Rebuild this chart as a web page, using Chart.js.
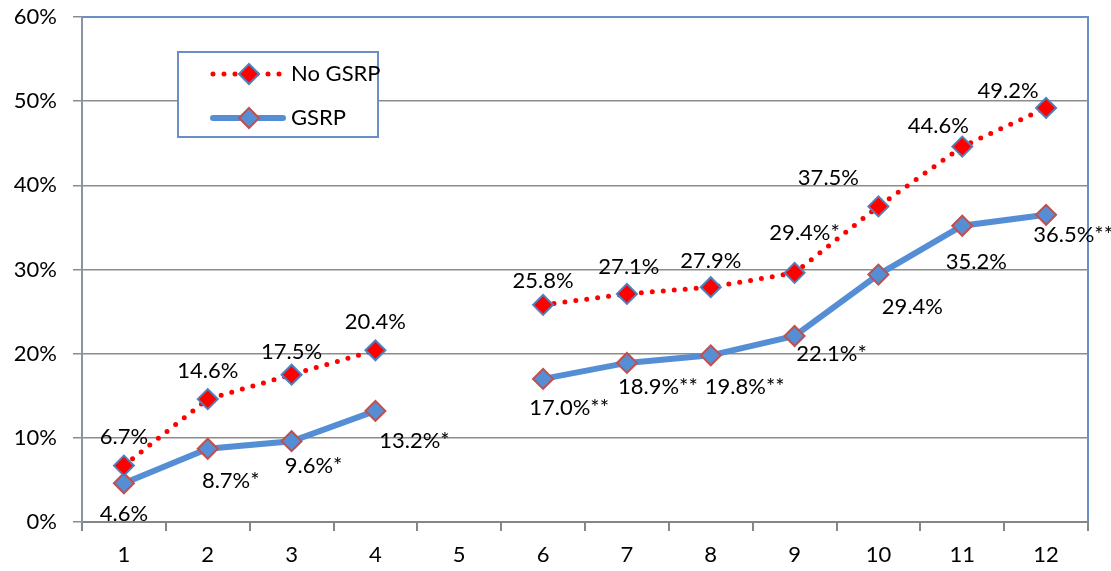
<!DOCTYPE html>
<html>
<head>
<meta charset="utf-8">
<script src="https://cdn.jsdelivr.net/npm/chart.js@4/dist/chart.umd.min.js"></script>
<style>
  html, body { margin: 0; padding: 0; background: #fff; }
  #wrap { width: 1111px; height: 571px; }
</style>
</head>
<body>
<div id="wrap"><canvas id="chart" width="1111" height="571"></canvas></div>
<script>
// chart data
const categories = ['1', '2', '3', '4', '5', '6', '7', '8', '9', '10', '11', '12'];
const noGsrp = [6.7, 14.6, 17.5, 20.4, null, 25.8, 27.1, 27.9, 29.6, 37.5, 44.6, 49.2];
const gsrp = [4.6, 8.7, 9.6, 13.2, null, 17.0, 18.9, 19.8, 22.1, 29.4, 35.2, 36.5];
const noGsrpLabels = ['6.7%', '14.6%', '17.5%', '20.4%', '', '25.8%', '27.1%', '27.9%', '29.4%*', '37.5%', '44.6%', '49.2%'];
const gsrpLabels = ['4.6%', '8.7%*', '9.6%*', '13.2%*', '', '17.0%**', '18.9%**', '19.8%**', '22.1%*', '29.4%', '35.2%', '36.5%**'];
const yTicks = [0, 10, 20, 30, 40, 50, 60];

// label offsets from the point (px): [dx, dy] to text centre
const noGsrpOffsets = [[0, -29], [0, -28], [0, -23], [0, -28], null, [0, -24], [2, -27], [0, -26], [10, -40], [-50, -28], [-24, -21], [-38, -17]];
const gsrpOffsets = [[0, 31], [23, 32], [22, 25], [39, 30], null, [26, 29], [31, 24], [34, 32], [37, 18], [34, 32], [14, 36], [27, 20]];

const FONT = 'Lato, "Open Sans", sans-serif';

const extras = {
  id: 'extras',
  afterDatasetsDraw(chart) {
    const ctx = chart.ctx;
    const area = chart.chartArea;
    ctx.save();
    // top / right plot border
    ctx.strokeStyle = '#6a8fc4';
    ctx.lineWidth = 2;
    ctx.beginPath();
    ctx.moveTo(area.left, area.top);
    ctx.lineTo(area.right, area.top);
    ctx.lineTo(area.right, area.bottom);
    ctx.stroke();

    // data labels
    ctx.font = '22px ' + FONT;
    ctx.fillStyle = '#000';
    ctx.textAlign = 'center';
    ctx.textBaseline = 'middle';
    const sets = [[0, noGsrpLabels, noGsrpOffsets], [1, gsrpLabels, gsrpOffsets]];
    sets.forEach(([di, texts, offs]) => {
      const meta = chart.getDatasetMeta(di);
      meta.data.forEach((pt, i) => {
        if (!texts[i] || !offs[i]) return;
        ctx.fillText(texts[i], pt.x + offs[i][0], pt.y + offs[i][1]);
      });
    });

    // legend box
    const lx = 178, ly = 52, lw = 200, lh = 85;
    ctx.fillStyle = '#fff';
    ctx.fillRect(lx, ly, lw, lh);
    ctx.strokeStyle = '#6a8fc4';
    ctx.lineWidth = 2;
    ctx.strokeRect(lx, ly, lw, lh);

    chart.data.datasets.forEach((ds, i) => {
      const y = ly + 22 + i * 44;
      ctx.save();
      ctx.strokeStyle = ds.borderColor;
      ctx.lineWidth = ds.borderWidth;
      ctx.lineCap = 'round';
      ctx.setLineDash(ds.borderDash || []);
      ctx.beginPath();
      ctx.moveTo(lx + 35, y);
      ctx.lineTo(lx + 105, y);
      ctx.stroke();
      ctx.restore();
      ctx.fillStyle = ds.pointBackgroundColor;
      ctx.strokeStyle = ds.pointBorderColor;
      ctx.lineWidth = ds.pointBorderWidth;
      ctx.beginPath();
      const r = ds.pointRadius;
      ctx.moveTo(lx + 71, y - r); ctx.lineTo(lx + 71 + r, y);
      ctx.lineTo(lx + 71, y + r); ctx.lineTo(lx + 71 - r, y);
      ctx.closePath(); ctx.fill(); ctx.stroke();
      ctx.fillStyle = '#000';
      ctx.textAlign = 'left';
      ctx.font = '22px ' + FONT;
      ctx.fillText(ds.label, lx + 113, y);
    });
    ctx.restore();
  }
};

new Chart(document.getElementById('chart').getContext('2d'), {
  type: 'line',
  data: {
    labels: categories,
    datasets: [
      {
        label: 'No GSRP',
        data: noGsrp,
        borderColor: '#ff0000',
        borderWidth: 5,
        borderDash: [0, 11],
        borderCapStyle: 'round',
        pointStyle: 'rectRot',
        pointRadius: 10,
        pointBackgroundColor: '#ff0000',
        pointBorderColor: '#4f81bd',
        pointBorderWidth: 2,
        spanGaps: false,
        tension: 0
      },
      {
        label: 'GSRP',
        data: gsrp,
        borderColor: '#558ed5',
        borderWidth: 6,
        borderCapStyle: 'round',
        pointStyle: 'rectRot',
        pointRadius: 10,
        pointBackgroundColor: '#558ed5',
        pointBorderColor: '#c0504d',
        pointBorderWidth: 2,
        spanGaps: false,
        tension: 0
      }
    ]
  },
  options: {
    responsive: false,
    animation: false,
    layout: { padding: { top: 17, right: 23, left: 0, bottom: 0 } },
    plugins: { legend: { display: false }, tooltip: { enabled: false } },
    scales: {
      x: {
        offset: true,
        grid: { offset: true, drawOnChartArea: false, tickLength: 9, color: '#868686', lineWidth: 2 },
        border: { color: '#868686', width: 2 },
        ticks: { font: { family: FONT, size: 22 }, color: '#000', padding: 11, maxRotation: 0 },
        afterFit(scale) { scale.height = 49; scale.paddingLeft = 0; scale.paddingRight = 0; }
      },
      y: {
        min: 0,
        max: 60,
        afterBuildTicks(scale) { scale.ticks = yTicks.map(v => ({ value: v })); },
        grid: { color: '#8c8c8c', lineWidth: 1.5, tickLength: 9 },
        border: { color: '#8a93a3', width: 2 },
        ticks: {
          font: { family: FONT, size: 22 }, color: '#000', padding: 16,
          callback: v => v + '%'
        },
        afterFit(scale) { scale.width = 82; scale.paddingTop = 0; scale.paddingBottom = 0; }
      }
    }
  },
  plugins: [extras]
});
</script>
</body>
</html>
